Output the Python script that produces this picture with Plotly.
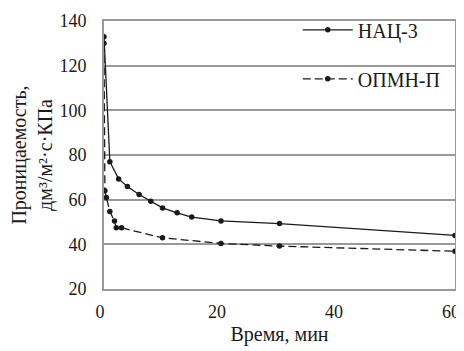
import plotly.graph_objects as go

t_nac = [0, 1, 2.5, 4, 6, 8, 10, 12.5, 15, 20, 30, 60]
v_nac = [133, 77, 69.3, 65.9, 62.3, 59.3, 56.3, 54.1, 52.2, 50.5, 49.3, 44]
t_opmn = [0, 0.15, 0.4, 1, 1.8, 2.1, 3, 10, 20, 30, 60]
v_opmn = [130, 64, 61, 54.7, 50.4, 47.4, 47.4, 42.9, 40.4, 39.2, 36.9]
names = ["НАЦ-3", "ОПМН-П"]
y_ticks = [20, 40, 60, 80, 100, 120, 140]
x_ticks = [0, 20, 40, 60]

FONT = "Liberation Serif"
INK = "#1a1a1a"
GRID = "#999999"
fig = go.Figure()
fig.add_trace(go.Scatter(x=t_nac, y=v_nac, name=names[0], mode="lines+markers",
                         line=dict(color=INK, width=1.3),
                         marker=dict(color=INK, size=5.5), legendgroup="a"))
fig.add_trace(go.Scatter(x=t_opmn, y=v_opmn, name=names[1], mode="lines+markers",
                         line=dict(color=INK, width=1.3, dash="8px,4px"),
                         marker=dict(color=INK, size=5.5), legendgroup="b"))

fig.update_layout(
    template="none",
    width=456, height=343,
    margin=dict(l=96, r=9, t=13, b=62, autoexpand=False),
    paper_bgcolor="white", plot_bgcolor="white",
    font=dict(family=FONT, size=18, color=INK),
    legend=dict(x=0.552, y=1.04, xanchor="left", yanchor="top",
                bgcolor="rgba(0,0,0,0)", itemwidth=50, tracegroupgap=20,
                font=dict(family=FONT, size=20, color=INK)),
    xaxis=dict(range=[0, 60], tickvals=x_ticks, showgrid=False,
               showline=True, linecolor=GRID, linewidth=2, mirror=True,
               zeroline=False, ticks="outside", ticklen=5,
               tickcolor="rgba(0,0,0,0)", automargin=False,
               ticklabeloverflow="allow", ticklabelshift=-4,
               title=dict(text="Время, мин", standoff=6,
                          font=dict(family=FONT, size=20, color=INK))),
    yaxis=dict(range=[20, 140], tickvals=y_ticks, showgrid=True,
               gridcolor=GRID, gridwidth=2,
               showline=True, linecolor=GRID, linewidth=2, mirror=True,
               zeroline=False, ticks="outside", ticklen=12,
               tickcolor="rgba(0,0,0,0)", automargin=False,
               title=dict(text="Проницаемость,<br>дм³/м²·с·КПа",
                          standoff=8,
                          font=dict(family=FONT, size=20, color=INK))),
)
fig.write_html("out.html")
